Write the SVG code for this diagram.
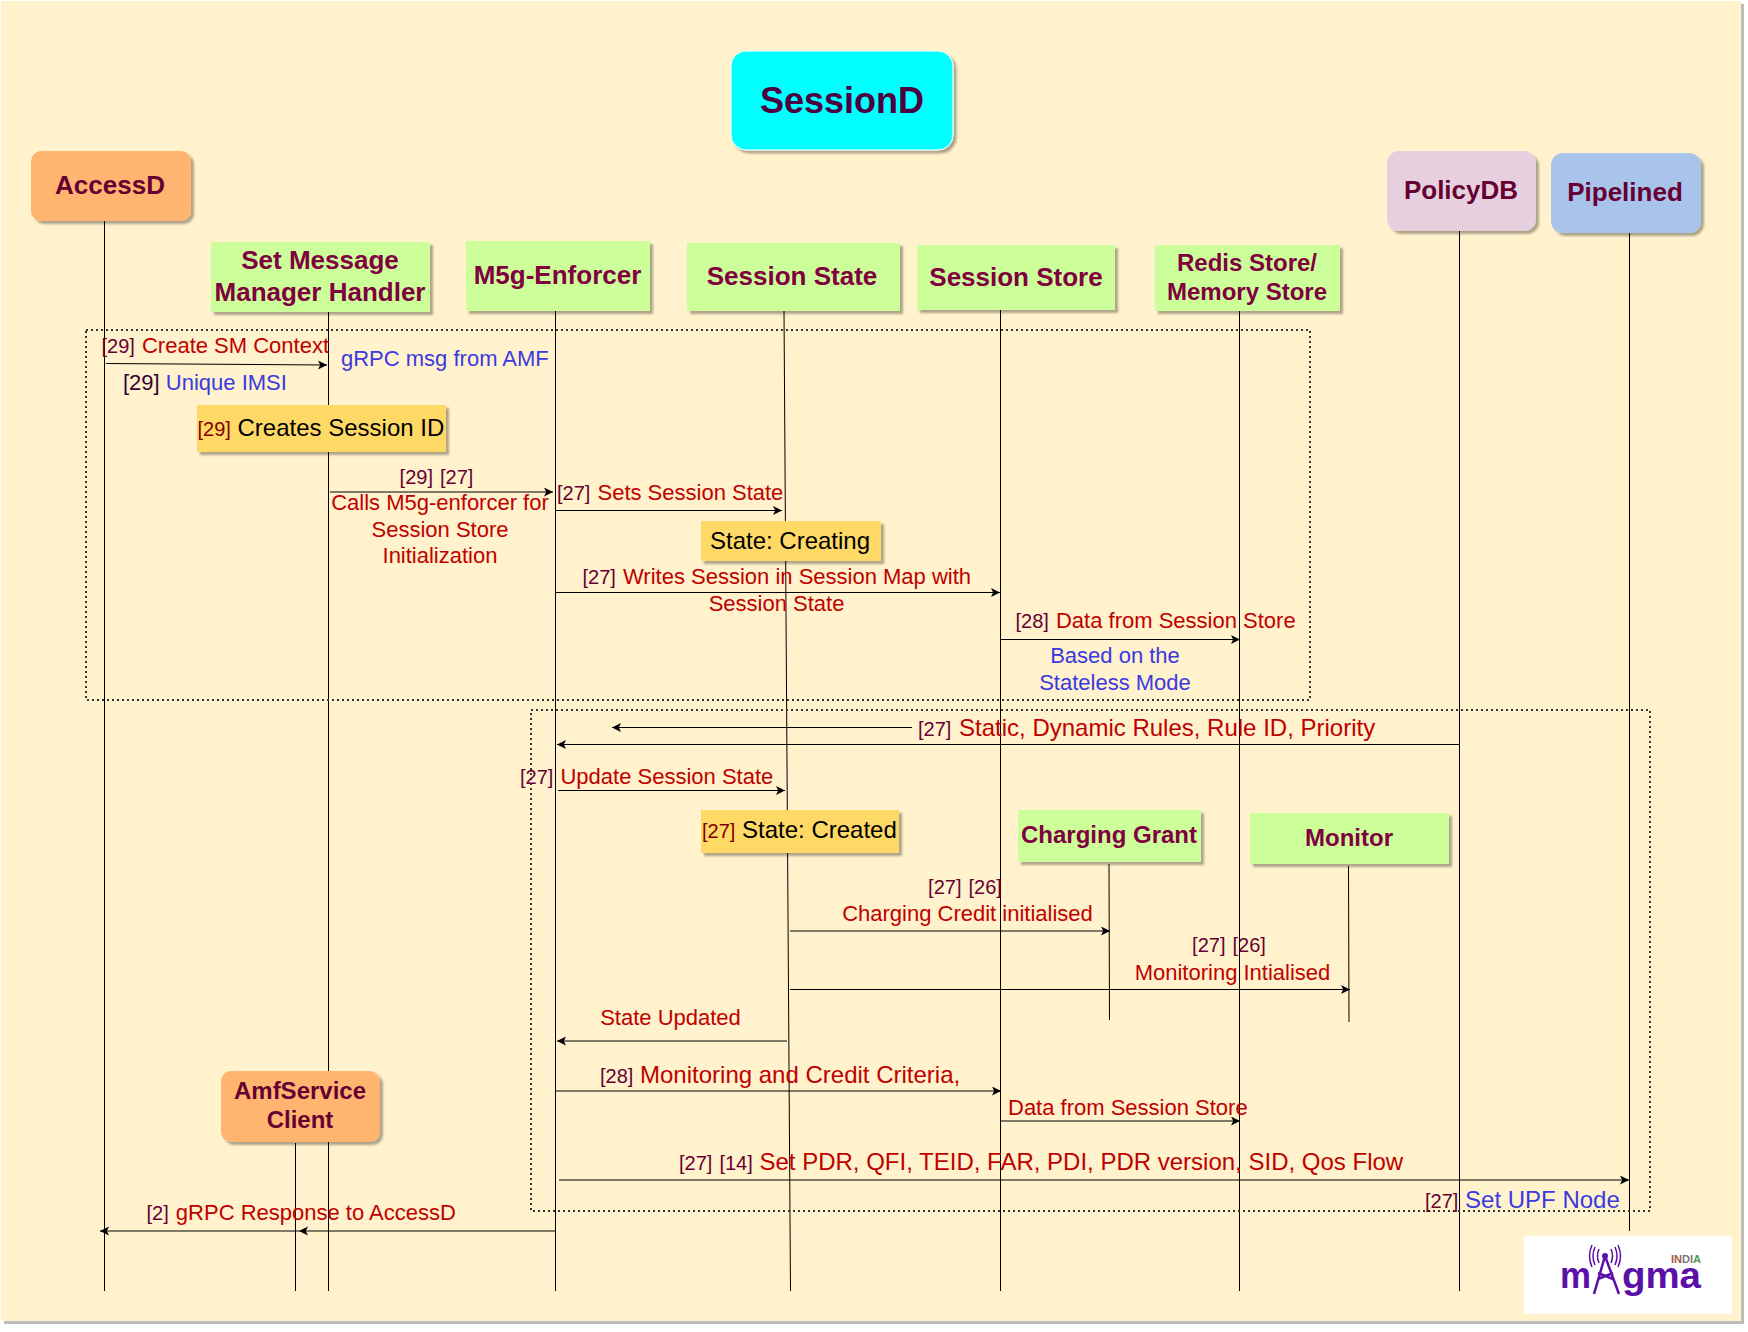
<svg xmlns="http://www.w3.org/2000/svg" width="1748" height="1332" viewBox="0 0 1748 1332">
<defs>
<filter id="sh" x="-10%" y="-10%" width="120%" height="125%"><feDropShadow dx="3" dy="3" stdDeviation="0.8" flood-color="#000" flood-opacity="0.32"/></filter>
<marker id="ah" markerUnits="userSpaceOnUse" markerWidth="11" markerHeight="11" refX="9" refY="4.500" orient="auto-start-reverse"><path d="M0 0L9 4.500L0 9L2.200 4.500Z" fill="#000"/></marker>
</defs>
<style>
text{font-family:"Liberation Sans",Arial,sans-serif}
.n{font-weight:bold;text-anchor:middle}
.a{font-size:26px;fill:#660033}
.g{font-size:26px;fill:#800040}
.g2{font-size:24px;fill:#800040}
.life{stroke:#000;stroke-width:1;fill:none}
.msg{stroke:#000;stroke-width:1;fill:none;marker-end:url(#ah)}
.box{fill:none;stroke:#333;stroke-width:2;stroke-dasharray:2 3}
.t{font-size:22px;fill:#c00000}
.b{fill:#3a3ae0}
.k{font-size:20px;fill:#660033}
.kk{word-spacing:1.500px}
.c{text-anchor:middle}
.green{fill:#ccff99;filter:url(#sh)}
.yel{fill:#ffd966;filter:url(#sh)}
</style>
<rect x="0" y="0" width="1748" height="1332" fill="#fff"/>
<rect x="4" y="4" width="1740" height="1320" fill="#bdbdbd"/>
<rect x="1" y="1" width="1740" height="1320" fill="#fff2cc"/>

<g id="connectors">
<path class="life" d="M104.500 221V1291M328.500 312V1291M555.500 311V1291M784 311L790.500 1291M1000.500 310V1291M1239.500 311V1291M1459.500 231V1291M1629.500 233V1231M295.500 1143V1291M1109 864L1109.500 1020M1348.500 866L1349 1022"/>
<rect class="box" x="86" y="330" width="1224" height="370"/>
<rect class="box" x="531" y="710" width="1119" height="501"/>
<path class="msg" d="M106 363.500L327 365"/>
<path class="msg" d="M330 492H553"/>
<path class="msg" d="M556 510.500H782"/>
<path class="msg" d="M555 592.500H1000"/>
<path class="msg" d="M1000 639.500H1240"/>
<path class="msg" d="M912 727.500H612"/>
<path class="msg" d="M1459 744.500H557"/>
<path class="msg" d="M558 790.500H785"/>
<path class="msg" d="M790 931H1110"/>
<path class="msg" d="M790 989.500H1350"/>
<path class="msg" d="M787 1041H557"/>
<path class="msg" d="M555 1091H1001"/>
<path class="msg" d="M1000 1121H1240"/>
<path class="msg" d="M559 1180H1629"/>
<path class="msg" d="M555 1231H299"/>
<path class="msg" d="M299 1231H100"/>
</g>

<g id="sessiond"><rect x="731" y="51" width="222" height="99" rx="15" fill="#00ffff" stroke="#fff" stroke-width="1" filter="url(#sh)"/><text class="n" x="842" y="113" font-size="36" fill="#4d0040">SessionD</text></g>
<g id="accessd"><rect x="31" y="151" width="160" height="70" rx="10" fill="#ffb570" filter="url(#sh)"/><text class="n a" x="110" y="194">AccessD</text></g>
<g id="setmsg"><rect class="green" x="211" y="242" width="219" height="70"/><text class="n g" x="320" y="269">Set Message</text><text class="n g" x="320" y="301">Manager Handler</text></g>
<g id="m5g"><rect class="green" x="466" y="241" width="184" height="70"/><text class="n g" x="557.500" y="284">M5g-Enforcer</text></g>
<g id="sstate"><rect class="green" x="687" y="243" width="213" height="68"/><text class="n g" x="792" y="285">Session State</text></g>
<g id="sstore"><rect class="green" x="917" y="245" width="198" height="65"/><text class="n g" x="1016" y="286">Session Store</text></g>
<g id="redis"><rect class="green" x="1155" y="245" width="185" height="66"/><text class="n g2" x="1247" y="271">Redis Store/</text><text class="n g2" x="1247" y="300">Memory Store</text></g>
<g id="policydb"><rect x="1387" y="151" width="149" height="80" rx="12" fill="#e6d0de" filter="url(#sh)"/><text class="n a" x="1461" y="199">PolicyDB</text></g>
<g id="pipelined"><rect x="1551" y="153" width="150" height="80" rx="12" fill="#a9c4eb" filter="url(#sh)"/><text class="n a" x="1625" y="201">Pipelined</text></g>
<g id="creates"><rect class="yel" x="197" y="405" width="249" height="47"/><text x="197.500" y="436"><tspan class="k" style="fill:#800000">[29]</tspan><tspan font-size="24" fill="#000"> Creates Session ID</tspan></text></g>
<g id="creating"><rect class="yel" x="701" y="521" width="180" height="40"/><text class="c" x="790" y="549" font-size="24" fill="#000">State: Creating</text></g>
<g id="created"><rect class="yel" x="701" y="810" width="198" height="43"/><text x="702" y="838"><tspan class="k" style="fill:#800000">[27]</tspan><tspan font-size="24" fill="#000"> State: Created</tspan></text></g>
<g id="charging"><rect class="green" x="1018" y="810" width="183" height="52"/><text class="n g2" x="1109" y="843">Charging Grant</text></g>
<g id="monitor"><rect class="green" x="1250" y="813" width="199" height="51"/><text class="n g2" x="1349" y="846">Monitor</text></g>
<g id="amf"><rect x="221" y="1071" width="159" height="71" rx="10" fill="#ffb570" filter="url(#sh)"/><text class="n g2" x="300" y="1099" style="fill:#660033">AmfService</text><text class="n g2" x="300" y="1128" style="fill:#660033">Client</text></g>

<g id="labels">
<text x="101.500" y="353"><tspan class="k">[29]</tspan><tspan class="t" dx="1"> Create SM Context</tspan></text>
<text x="341" y="366" class="t b">gRPC msg from AMF</text>
<text x="123" y="390" font-size="22"><tspan fill="#330033">[29]</tspan><tspan class="b"> Unique IMSI</tspan></text>
<text class="k kk c" x="436.500" y="484">[29] [27]</text>
<text class="t c" x="440" y="510">Calls M5g-enforcer for</text>
<text class="t c" x="440" y="537">Session Store</text>
<text class="t c" x="440" y="563">Initialization</text>
<text x="557" y="500"><tspan class="k">[27]</tspan><tspan class="t" dx="1"> Sets Session State</tspan></text>
<text x="582.500" y="584"><tspan class="k">[27]</tspan><tspan class="t" dx="1"> Writes Session in Session Map with</tspan></text>
<text class="t c" x="776.500" y="611">Session State</text>
<text x="1015.500" y="628"><tspan class="k">[28]</tspan><tspan class="t" dx="1"> Data from Session Store</tspan></text>
<text class="t b c" x="1115" y="663">Based on the</text>
<text class="t b c" x="1115" y="690">Stateless Mode</text>
<text x="918" y="736"><tspan class="k">[27]</tspan><tspan font-size="24" fill="#c00000" dx="1"> Static, Dynamic Rules, Rule ID, Priority</tspan></text>
<text x="520" y="784"><tspan class="k">[27]</tspan><tspan class="t" dx="1"> Update Session State</tspan></text>
<text class="k kk c" x="965" y="894">[27] [26]</text>
<text class="t c" x="967.500" y="921">Charging Credit initialised</text>
<text class="k kk c" x="1229" y="952">[27] [26]</text>
<text class="t c" x="1232.500" y="980">Monitoring Intialised</text>
<text class="t c" x="670.500" y="1025">State Updated</text>
<text x="600" y="1083"><tspan class="k">[28]</tspan><tspan font-size="24" fill="#c00000"> Monitoring and Credit Criteria,</tspan></text>
<text class="t" x="1008" y="1115">Data from Session Store</text>
<text x="679" y="1170"><tspan class="k kk">[27] [14]</tspan><tspan font-size="24" fill="#c00000"> Set PDR, QFI, TEID, FAR, PDI, PDR version, SID, Qos Flow</tspan></text>
<text x="1425" y="1208"><tspan class="k">[27]</tspan><tspan font-size="24" class="b"> Set UPF Node</tspan></text>
<text x="146.500" y="1220"><tspan class="k">[2]</tspan><tspan class="t" dx="1"> gRPC Response to AccessD</tspan></text>
</g>

<g id="logo">
<rect x="1524" y="1236" width="208" height="78" fill="#fff"/>
<text x="1560" y="1288" font-size="36" font-weight="bold" fill="#5b10a8" textLength="31" lengthAdjust="spacingAndGlyphs">m</text>
<text x="1622" y="1288" font-size="36" font-weight="bold" fill="#5b10a8" textLength="79" lengthAdjust="spacingAndGlyphs">gma</text>
<text x="1671" y="1263" font-size="11" font-weight="bold" fill="#888"><tspan fill="#a0584a">IN</tspan><tspan fill="#777">DI</tspan><tspan fill="#4a9a4a">A</tspan></text>
<path d="M1605 1256L1594 1294M1605 1256L1619 1294M1598 1279L1613 1273M1598 1273L1613 1279" stroke="#5b10a8" stroke-width="2.500" fill="none"/>
<circle cx="1605" cy="1256" r="3" fill="#5b10a8"/>
<path d="M1599 1249Q1596 1256 1599 1263M1611 1249Q1614 1256 1611 1263M1595 1247Q1591 1256 1595 1265M1615 1247Q1619 1256 1615 1265M1592 1245Q1587 1256 1592 1267M1618 1245Q1623 1256 1618 1267" stroke="#5b10a8" stroke-width="1.500" fill="none"/>
</g>
</svg>
